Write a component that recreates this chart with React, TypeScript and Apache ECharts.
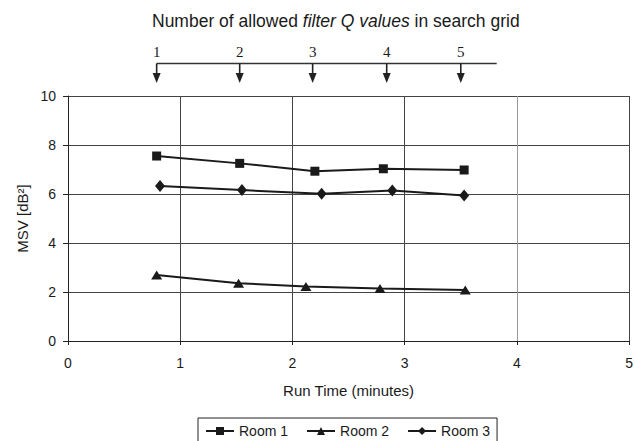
import React, { useEffect, useRef } from "react";
import * as echarts from "echarts";

const seriesNames = ["Room 1", "Room 2", "Room 3"];
const room1X = [0.79, 1.53, 2.2, 2.81, 3.53];
const room1Y = [7.55, 7.25, 6.93, 7.03, 6.98];
const room2X = [0.79, 1.52, 2.12, 2.78, 3.54];
const room2Y = [2.69, 2.36, 2.22, 2.14, 2.08];
const room3X = [0.82, 1.55, 2.26, 2.89, 3.53];
const room3Y = [6.33, 6.16, 6.01, 6.14, 5.94];

const qLabels = ["1", "2", "3", "4", "5"];
const qArrowX = [0.79, 1.53, 2.18, 2.84, 3.5];
const qLineEndX = 3.82;

const FONT = "'Liberation Sans', Arial, sans-serif";
const INK = "#1a1a1a";

function pairs(xs: number[], ys: number[]) {
  return xs.map((x, i) => [x, ys[i]]);
}

export default function App() {
  const ref = useRef<HTMLDivElement>(null);
  useEffect(() => {
    document.body.style.margin = "0";
    const chart = echarts.init(ref.current!, null, { renderer: "svg" });
    const lineStyle = { color: INK, width: 2 };
    const itemStyle = { color: INK };
    chart.setOption({
      animation: false,
      backgroundColor: "#fff",
      title: {
        left: 152,
        top: 12,
        padding: 0,
        text: "{n|Number of allowed }{i|filter Q values}{n| in search grid}",
        textStyle: {
          fontWeight: "normal",
          rich: {
            n: { fontFamily: FONT, fontSize: 17.5, color: INK, fontWeight: "normal" },
            i: { fontFamily: FONT, fontSize: 17.5, color: INK, fontStyle: "italic", fontWeight: "normal" },
          },
        },
      },
      grid: { left: 68, right: 5, top: 96, bottom: 100 },
      legend: {
        data: seriesNames,
        left: 198,
        top: 418,
        padding: [6, 7, 6, 7],
        borderColor: "#222",
        borderWidth: 1,
        itemGap: 18,
        itemWidth: 28,
        itemHeight: 10,
        textStyle: { fontFamily: FONT, fontSize: 14, color: INK },
      },
      xAxis: {
        type: "value",
        min: 0,
        max: 5,
        interval: 1,
        name: "Run Time (minutes)",
        nameLocation: "middle",
        nameGap: 42,
        nameTextStyle: { fontFamily: FONT, fontSize: 15, color: INK },
        axisLine: { show: true, lineStyle: { color: "#222", width: 1 } },
        axisTick: { show: true, length: 4, lineStyle: { color: "#222" } },
        axisLabel: { margin: 15, fontFamily: FONT, fontSize: 14, color: INK },
        splitLine: {
          show: true,
          lineStyle: { color: ["#444", "#444", "#444", "#444", "#999", "#444"], width: 1 },
        },
      },
      yAxis: {
        type: "value",
        min: 0,
        max: 10,
        interval: 2,
        name: "MSV [dB²]",
        nameLocation: "middle",
        nameGap: 38,
        nameRotate: 90,
        nameTextStyle: { fontFamily: FONT, fontSize: 15, color: INK },
        axisLine: { show: true, lineStyle: { color: "#222", width: 1 } },
        axisTick: { show: true, length: 5, lineStyle: { color: "#222" } },
        axisLabel: { margin: 12, fontFamily: FONT, fontSize: 14, color: INK },
        splitLine: { show: true, lineStyle: { color: "#444", width: 1 } },
      },
      series: [
        {
          name: seriesNames[0],
          type: "line",
          data: pairs(room1X, room1Y),
          symbol: "rect",
          symbolSize: 9,
          lineStyle,
          itemStyle,
        },
        {
          name: seriesNames[1],
          type: "line",
          data: pairs(room2X, room2Y),
          symbol: "triangle",
          symbolSize: [11, 9],
          lineStyle,
          itemStyle,
        },
        {
          name: seriesNames[2],
          type: "line",
          data: pairs(room3X, room3Y),
          symbol: "diamond",
          symbolSize: [10, 12],
          lineStyle,
          itemStyle,
        },
      ],
    });

    const toPx = (x: number) => (chart.convertToPixel({ gridIndex: 0 }, [x, 10]) as number[])[0];
    const lineY = 63.5;
    const elements: any[] = [];
    elements.push({
      type: "line",
      shape: { x1: toPx(qArrowX[0]), y1: lineY, x2: toPx(qLineEndX), y2: lineY },
      style: { stroke: "#333", lineWidth: 1.3 },
      silent: true,
    });
    qArrowX.forEach((qx, i) => {
      const px = toPx(qx);
      elements.push({
        type: "line",
        shape: { x1: px, y1: lineY, x2: px, y2: 76 },
        style: { stroke: "#222", lineWidth: 1.6 },
        silent: true,
      });
      elements.push({
        type: "polygon",
        shape: { points: [[px - 4, 73], [px + 4, 73], [px, 83]] },
        style: { fill: "#222" },
        silent: true,
      });
      elements.push({
        type: "text",
        x: px,
        y: 52,
        style: {
          text: qLabels[i],
          fill: INK,
          font: "15px 'Liberation Serif', 'Times New Roman', serif",
          textAlign: "center",
          textVerticalAlign: "middle",
        },
        silent: true,
      });
    });
    chart.setOption({ graphic: elements });

    return () => chart.dispose();
  }, []);
  return <div ref={ref} style={{ width: 636, height: 441 }} />;
}
